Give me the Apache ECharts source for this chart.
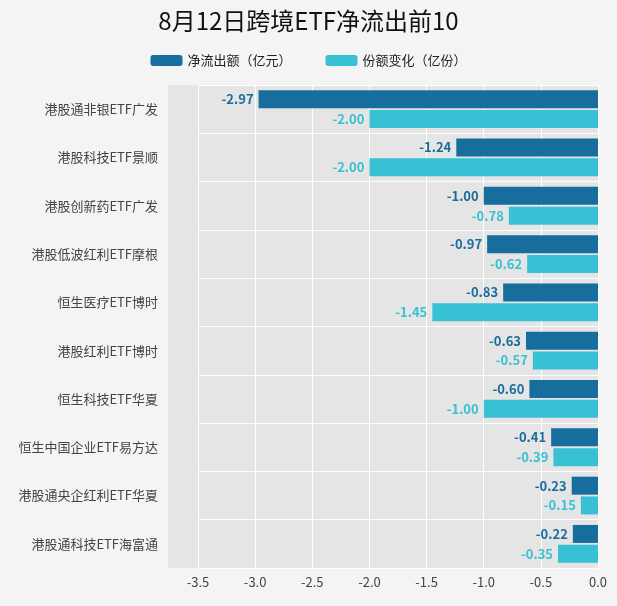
<!DOCTYPE html>
<html><head><meta charset="utf-8">
<script src="https://cdn.jsdelivr.net/npm/echarts@6/dist/echarts.min.js"></script>
<style>html,body{margin:0;background:#f4f4f4}#chart{width:617px;height:606px}</style>
</head><body><div id="chart"></div>
<script>
var categories = ['港股通非银ETF广发','港股科技ETF景顺','港股创新药ETF广发','港股低波红利ETF摩根','恒生医疗ETF博时','港股红利ETF博时','恒生科技ETF华夏','恒生中国企业ETF易方达','港股通央企红利ETF华夏','港股通科技ETF海富通'];
var netOutflow = [-2.97,-1.24,-1.00,-0.97,-0.83,-0.63,-0.60,-0.41,-0.23,-0.22];
var shareChange = [-2.00,-2.00,-0.78,-0.62,-1.45,-0.57,-1.00,-0.39,-0.15,-0.35];
var xTicks = [-3.5,-3.0,-2.5,-2.0,-1.5,-1.0,-0.5,0.0];

var chart = echarts.init(document.getElementById('chart'));
var font = 'Noto Sans CJK SC';
function lbl(color){return {show:true,position:'left',color:color,fontWeight:'bold',fontSize:13,fontFamily:font,formatter:function(p){return p.value.toFixed(2);}};}
chart.setOption({
  backgroundColor:'#f4f4f4',
  textStyle:{fontFamily:font},
  title:{text:'8月12日跨境ETF净流出前10',left:'center',top:4,textStyle:{fontSize:24,fontWeight:'normal',color:'#111',fontFamily:font}},
  legend:{top:49,left:'center',itemWidth:32,itemHeight:11,itemGap:34,textStyle:{fontSize:13,color:'#222'},data:['净流出额（亿元）','份额变化（亿份）']},
  graphic:[{type:'rect',z:-1,shape:{x:168,y:85,width:430,height:483},style:{fill:'#e5e5e5'}}],
  grid:{left:198,right:19,top:85,bottom:38},
  xAxis:{type:'value',min:-3.5,max:0,interval:0.5,
    axisLabel:{color:'#444',fontSize:13,formatter:function(v){return v.toFixed(1);}},
    axisLine:{show:false},axisTick:{show:false},splitLine:{lineStyle:{color:'#fff',width:1}}},
  yAxis:{type:'category',inverse:true,data:categories,
    axisLabel:{color:'#444',fontSize:13,margin:40},axisLine:{show:false},axisTick:{show:false},
    splitLine:{show:true,lineStyle:{color:'#fff'}}},
  series:[
    {name:'净流出额（亿元）',type:'bar',data:netOutflow,barWidth:18,barGap:'10%',itemStyle:{color:'#176d9c'},label:lbl('#176d9c')},
    {name:'份额变化（亿份）',type:'bar',data:shareChange,barWidth:18,itemStyle:{color:'#38c0d4'},label:lbl('#38c0d4')}
  ]
});
</script></body></html>
